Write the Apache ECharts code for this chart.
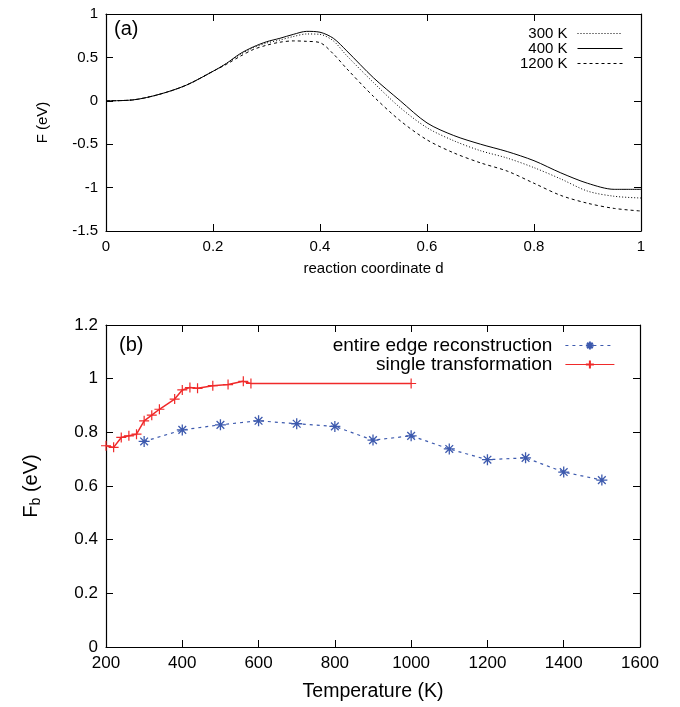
<!DOCTYPE html>
<html>
<head>
<meta charset="utf-8">
<script src="https://cdn.jsdelivr.net/npm/echarts@6/dist/echarts.min.js"></script>
<style>
  html, body { margin: 0; padding: 0; background: #fff; }
  #chart { width: 680px; height: 707px; }
</style>
</head>
<body>
<div id="chart"></div>
<script>
// panel (a): free energy along reaction coordinate
var coordD = [0, 0.05, 0.1, 0.15, 0.2, 0.225, 0.25, 0.275, 0.3, 0.325, 0.35, 0.375, 0.4, 0.425, 0.45, 0.5, 0.55, 0.6, 0.65, 0.7, 0.75, 0.8, 0.85, 0.9, 0.95, 1.0];
var f300  = [0, 0.01, 0.075, 0.18, 0.34, 0.43, 0.53, 0.61, 0.665, 0.70, 0.74, 0.77, 0.765, 0.69, 0.52, 0.21, -0.08, -0.31, -0.46, -0.575, -0.66, -0.77, -0.90, -1.04, -1.10, -1.12];
var f400  = [0, 0.01, 0.075, 0.18, 0.34, 0.43, 0.54, 0.62, 0.68, 0.72, 0.765, 0.80, 0.79, 0.72, 0.575, 0.265, 0.0, -0.255, -0.40, -0.50, -0.585, -0.69, -0.83, -0.95, -1.02, -1.02];
var f1200 = [0, 0.01, 0.075, 0.18, 0.34, 0.42, 0.51, 0.59, 0.64, 0.675, 0.69, 0.685, 0.67, 0.54, 0.37, 0.05, -0.23, -0.45, -0.60, -0.715, -0.81, -0.95, -1.09, -1.18, -1.24, -1.27];

// panel (b): barrier vs temperature
var tempEntire = [300, 400, 500, 600, 700, 800, 900, 1000, 1100, 1200, 1300, 1400, 1500];
var fbEntire   = [0.766, 0.809, 0.828, 0.843, 0.832, 0.822, 0.771, 0.787, 0.738, 0.698, 0.705, 0.652, 0.622];
var tempSingle = [200, 220, 240, 260, 280, 300, 320, 340, 380, 400, 420, 440, 480, 520, 560, 580, 1000];
var fbSingle   = [0.750, 0.744, 0.781, 0.787, 0.793, 0.843, 0.864, 0.886, 0.924, 0.958, 0.967, 0.964, 0.974, 0.978, 0.990, 0.982, 0.982];

// tick values
var xTicksA = [0, 0.2, 0.4, 0.6, 0.8, 1];
var yTicksA = [-1.5, -1, -0.5, 0, 0.5, 1];
var xTicksB = [200, 400, 600, 800, 1000, 1200, 1400, 1600];
var yTicksB = [0, 0.2, 0.4, 0.6, 0.8, 1, 1.2];

var FONT = 'Liberation Sans, Arial, sans-serif';
var BLUE = '#3d5aae';
var RED = '#f02a2a';

function pairs(xs, ys) {
    return xs.map(function (x, i) { return [x, ys[i]]; });
}

function axis(ticks, gridIndex, position, showLabel, fontSize, extra) {
    var a = {
        type: 'value',
        gridIndex: gridIndex,
        position: position,
        min: ticks[0],
        max: ticks[ticks.length - 1],
        interval: Math.round((ticks[1] - ticks[0]) * 1000) / 1000,
        axisLine: { show: true, onZero: false, lineStyle: { color: '#000', width: 1.2 } },
        axisTick: { show: true, inside: true, length: 7, lineStyle: { color: '#000', width: 1 } },
        splitLine: { show: false },
        axisLabel: {
            show: showLabel,
            color: '#000',
            fontFamily: FONT,
            fontSize: fontSize,
            showMinLabel: true,
            showMaxLabel: true,
            formatter: function (v) { return String(Math.round(v * 1000) / 1000); }
        }
    };
    for (var k in extra) a[k] = extra[k];
    return a;
}

var plusPath = 'path://M0,5L10,5M5,0L5,10';
var starPath = 'path://M0,5L10,5M5,0L5,10M1.5,1.5L8.5,8.5M8.5,1.5L1.5,8.5';

var options = {
    animation: false,
    backgroundColor: '#fff',
    grid: [
        { left: 106, top: 14, width: 535, height: 217 },
        { left: 106, top: 325, width: 534, height: 322 }
    ],
    xAxis: [
        axis(xTicksA, 0, 'bottom', true, 15, {
            name: 'reaction coordinate d', nameLocation: 'middle', nameGap: 30,
            nameTextStyle: { color: '#000', fontFamily: FONT, fontSize: 15 }
        }),
        axis(xTicksA, 0, 'top', false, 15, {}),
        axis(xTicksB, 1, 'bottom', true, 17, {
            name: 'Temperature (K)', nameLocation: 'middle', nameGap: 35,
            nameTextStyle: { color: '#000', fontFamily: FONT, fontSize: 19.5 }
        }),
        axis(xTicksB, 1, 'top', false, 17, {})
    ],
    yAxis: [
        axis(yTicksA, 0, 'left', true, 15, {
            name: 'F (eV)', nameLocation: 'middle', nameGap: 56,
            nameTextStyle: { color: '#000', fontFamily: FONT, fontSize: 15 }
        }),
        axis(yTicksA, 0, 'right', false, 15, {}),
        axis(yTicksB, 1, 'left', true, 17, {
            name: '{a|F}{s|b}{a| (eV)}', nameLocation: 'middle', nameGap: 63,
            nameTextStyle: {
                color: '#000', fontFamily: FONT,
                rich: {
                    a: { fontSize: 20, fontFamily: FONT, color: '#000' },
                    s: { fontSize: 14, fontFamily: FONT, color: '#000', verticalAlign: 'bottom', padding: [9, 0, 0, 0] }
                }
            }
        }),
        axis(yTicksB, 1, 'right', false, 17, {})
    ],
    legend: [
        {
            data: ['300 K', '400 K', '1200 K'],
            orient: 'vertical',
            align: 'right',
            right: 52,
            top: 21,
            itemWidth: 45,
            itemHeight: 10,
            itemGap: 0,
            selectedMode: false,
            itemStyle: { color: 'rgba(0,0,0,0)', borderWidth: 0 },
            lineStyle: { width: 1 },
            textStyle: { color: '#000', fontFamily: FONT, fontSize: 15, lineHeight: 14.5, padding: [0, 5, 0, 0] }
        },
        {
            data: ['entire edge reconstruction', 'single transformation'],
            orient: 'vertical',
            align: 'right',
            right: 60,
            top: 331,
            itemWidth: 49,
            itemHeight: 10,
            itemGap: 0,
            selectedMode: false,
            itemStyle: { color: 'rgba(0,0,0,0)' },
            lineStyle: { width: 1.2 },
            textStyle: { color: '#000', fontFamily: FONT, fontSize: 19, lineHeight: 19, padding: [0, 8, 0, 0] }
        }
    ],
    graphic: [
        { type: 'text', left: 114, top: 19, style: { text: '(a)', fill: '#000', font: '20px ' + FONT } },
        { type: 'text', left: 119, top: 335, style: { text: '(b)', fill: '#000', font: '20px ' + FONT } }
    ],
    series: [
        {
            name: '300 K', type: 'line', xAxisIndex: 0, yAxisIndex: 0,
            data: pairs(coordD, f300), symbol: 'none', smooth: 0.3,
            itemStyle: { color: '#000' },
            lineStyle: { color: '#000', width: 1, type: [1, 2] }
        },
        {
            name: '400 K', type: 'line', xAxisIndex: 0, yAxisIndex: 0,
            data: pairs(coordD, f400), symbol: 'none', smooth: 0.3,
            itemStyle: { color: '#000' },
            lineStyle: { color: '#000', width: 1, type: 'solid' }
        },
        {
            name: '1200 K', type: 'line', xAxisIndex: 0, yAxisIndex: 0,
            data: pairs(coordD, f1200), symbol: 'none', smooth: 0.3,
            itemStyle: { color: '#000' },
            lineStyle: { color: '#000', width: 1, type: [3, 3] }
        },
        {
            name: 'entire edge reconstruction', type: 'line', xAxisIndex: 2, yAxisIndex: 2,
            data: pairs(tempEntire, fbEntire),
            symbol: starPath, symbolSize: 11, showAllSymbol: true,
            itemStyle: { color: 'rgba(0,0,0,0)', borderColor: BLUE, borderWidth: 1.3 },
            lineStyle: { color: BLUE, width: 1.2, type: [3, 4] }
        },
        {
            name: 'single transformation', type: 'line', xAxisIndex: 2, yAxisIndex: 2,
            data: pairs(tempSingle, fbSingle),
            symbol: plusPath, symbolSize: 10, showAllSymbol: true,
            itemStyle: { color: 'rgba(0,0,0,0)', borderColor: RED, borderWidth: 1.2 },
            lineStyle: { color: RED, width: 1.5 }
        }
    ]
};

var chart = echarts.init(document.getElementById('chart'));
chart.setOption(options);
</script>
</body>
</html>
